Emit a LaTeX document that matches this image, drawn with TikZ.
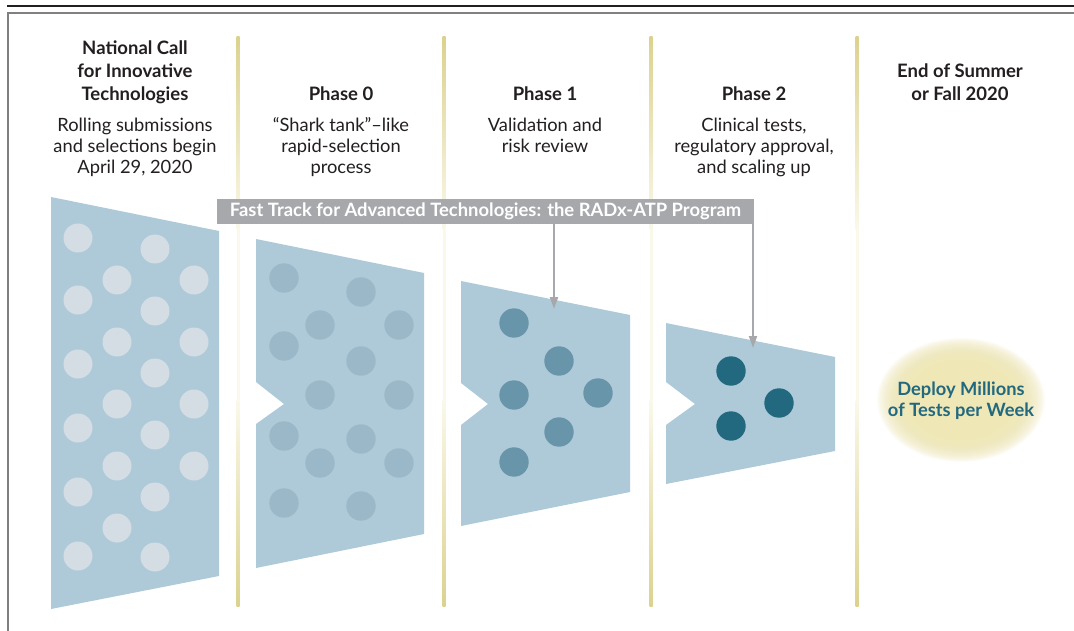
\documentclass[tikz,border=0pt]{standalone}
\usepackage{fontspec}
\setmainfont{Lato}
\usetikzlibrary{arrows.meta,shapes.geometric}
\definecolor{funnel}{HTML}{AECAD8}
\definecolor{dotA}{HTML}{D4DDE4}
\definecolor{dotB}{HTML}{9BB8C9}
\definecolor{dotC}{HTML}{6895AA}
\definecolor{dotD}{HTML}{22687F}
\definecolor{bannergray}{HTML}{A6A8AB}
\definecolor{gold}{HTML}{DCD28E}
\definecolor{palegold}{HTML}{FAF8EA}
\definecolor{ink}{HTML}{231F20}
\definecolor{glow}{HTML}{EFE8B6}
\tikzset{
  head/.style={font=\fontsize{18.5}{23}\selectfont\bfseries, text=ink, align=center, anchor=base, inner sep=0pt},
  desc/.style={font=\fontsize{18.3}{21}\selectfont, text=ink, align=center, anchor=base, inner sep=0pt},
  banner/.style={fill=bannergray, text=white, font=\fontsize{18.4}{20}\selectfont\bfseries, minimum width=537pt, minimum height=25pt, inner sep=0pt},
  pointer/.style={draw=bannergray, line width=2pt, -{Triangle[length=12pt,width=8pt]}},
  deploy/.style={font=\fontsize{18.3}{21}\selectfont\bfseries, text=dotD, align=center, inner sep=0pt},
  glowring/.style={fill=glow, opacity=0.12}
}
\begin{document}
\begin{tikzpicture}[x=1pt,y=1pt]
\useasboundingbox (0,0) rectangle (1074,-631);
\fill[white] (0,0) rectangle (1074,-631);
% frame
\draw[ink, line width=2.5pt] (7,-6) -- (1074,-6);
\draw[gray, line width=2pt] (8,-631) -- (8,-13) -- (1074,-13);
% gold dividers
\foreach \gx in {238,444,651,857}{
  \shade[top color=gold, bottom color=palegold] (\gx-1.5,-37) rectangle (\gx+1.5,-230);
  \fill[palegold] (\gx-1.5,-230) rectangle (\gx+1.5,-400);
  \shade[top color=palegold, bottom color=gold] (\gx-1.5,-400) rectangle (\gx+1.5,-606);
}
% glow
\foreach \i in {0,...,24}
  \fill[glowring] (961,-400) ellipse [x radius=84-1.4*\i, y radius=62-1.05*\i];
% column texts
\node[head] (h1) at (135,-101) {National Call\\for Innovative\\Technologies};
\node[desc] (d1) at (135,-174) {Rolling submissions\\and selections begin\\April 29, 2020};
\node[head] (h2) at (341,-101) {Phase 0};
\node[desc] (d2) at (341,-174) {“Shark tank”–like\\rapid-selection\\process};
\node[head] (h3) at (545,-101) {Phase 1};
\node[desc] (d3) at (545,-153) {Validation and\\risk review};
\node[head] (h4) at (754,-101) {Phase 2};
\node[desc] (d4) at (754,-174) {Clinical tests,\\regulatory approval,\\and scaling up};
\node[head] (h5) at (960,-101) {End of Summer\\or Fall 2020};
% funnel A
\fill[funnel] (51,-197) -- (219,-231) -- (219,-576) -- (51,-609) -- cycle;
\foreach \cx/\cy in {78/238,78/300,78/364,78/428,78/492,78/556,
  117/280,117/342,117/404,117/466,117/528,
  155/249,155/311,155/373,155/435,155/497,155/557,
  194/280,194/342,194/404,194/466}
  \fill[dotA] (\cx,-\cy) circle (14.5);
% funnel B
\fill[funnel] (256,-239) -- (424,-273) -- (424,-534) -- (256,-568) -- (256,-424) -- (284,-404) -- (256,-382) -- cycle;
\foreach \cx/\cy in {284/278,361/292,320/325,399/325,284/346,361/361,320/395,399/395,284/436,361/439,320/463,399/463,284/503,361/506}
  \fill[dotB] (\cx,-\cy) circle (14.7);
% funnel C
\fill[funnel] (461,-281) -- (630,-315) -- (630,-492) -- (461,-526) -- (461,-425) -- (488,-404) -- (461,-383) -- cycle;
\foreach \cx/\cy in {514/323,559/361,514/395,598/393,559/432,514/462}
  \fill[dotC] (\cx,-\cy) circle (14.7);
% funnel D
\fill[funnel] (666,-323) -- (835,-357) -- (835,-451) -- (666,-484) -- (666,-425) -- (695,-404) -- (666,-382) -- cycle;
\foreach \cx/\cy in {731/371,779/403,731/426}
  \fill[dotD] (\cx,-\cy) circle (14.7);
% banner and pointers
\node[banner] (ban) at (485.5,-211.5) {Fast Track for Advanced Technologies: the RADx-ATP Program};
\coordinate (tipC) at (554,-309);
\coordinate (tipD) at (753,-348);
\draw[pointer] (ban.south -| tipC) -- (tipC);
\draw[pointer] (ban.south -| tipD) -- (tipD);
% deploy
\node[deploy] (dep) at (961,-401) {Deploy Millions\\of Tests per Week};
\end{tikzpicture}
\end{document}
